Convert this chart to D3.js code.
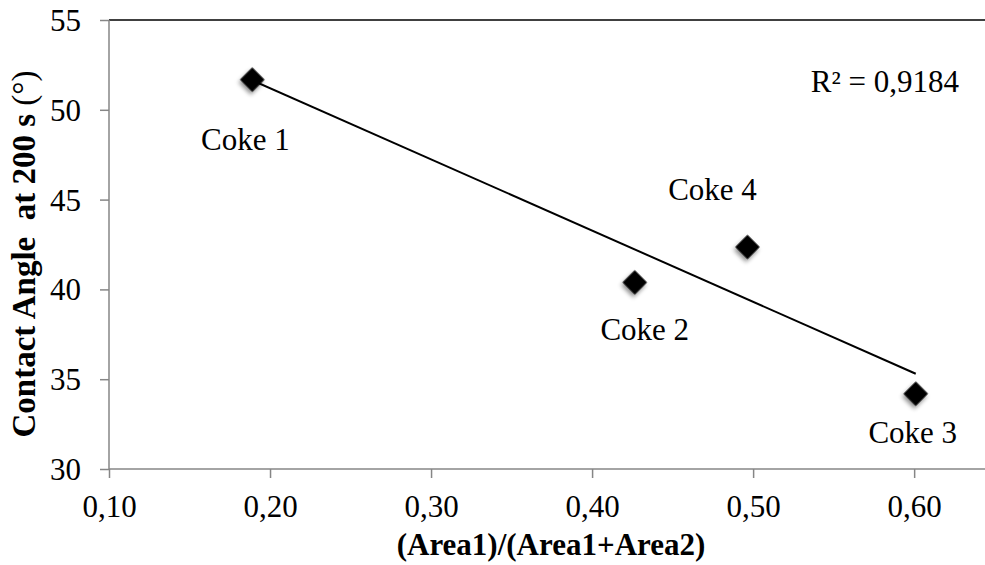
<!DOCTYPE html>
<html>
<head>
<meta charset="utf-8">
<script src="https://cdn.jsdelivr.net/npm/d3@7"></script>
<style>
  body { margin: 0; background: #fff; }
  text { font-family: "Liberation Serif", "Times New Roman", serif; fill: #000; }
</style>
</head>
<body>
<div id="chart"></div>
<script>
const names = ["Coke 1", "Coke 2", "Coke 3", "Coke 4"];
const ratio = [0.189, 0.4265, 0.601, 0.4965];
const angle = [51.68, 40.39, 34.19, 42.36];
const xTicks = [0.10, 0.20, 0.30, 0.40, 0.50, 0.60];
const yTicks = [30, 35, 40, 45, 50, 55];
const r2Label = "R² = 0,9184";

const width = 985, height = 565;
const margin = { top: 20, right: 0, bottom: 96, left: 109 };

const svg = d3.select("#chart").append("svg")
    .attr("width", width)
    .attr("height", height);

const defs = svg.append("defs");
const shadow = defs.append("filter")
    .attr("id", "shadow")
    .attr("x", "-50%").attr("y", "-50%")
    .attr("width", "200%").attr("height", "200%");
shadow.append("feDropShadow")
    .attr("dx", 1).attr("dy", 3)
    .attr("stdDeviation", 2)
    .attr("flood-color", "#000")
    .attr("flood-opacity", 0.45);

const x = d3.scaleLinear().domain([0.10, 0.644]).range([margin.left, width - margin.right]);
const y = d3.scaleLinear().domain([30, 55]).range([height - margin.bottom, margin.top]);

const fmt = d => d3.format(".2f")(d).replace(".", ",");

// top border
svg.append("line")
    .attr("x1", x(0.10)).attr("x2", width)
    .attr("y1", y(55)).attr("y2", y(55))
    .attr("stroke", "#000").attr("stroke-width", 1.5);

// x axis
const xAxis = svg.append("g")
    .attr("transform", `translate(0,${y(30)})`)
    .call(d3.axisBottom(x).tickValues(xTicks).tickFormat(fmt).tickSize(9));
xAxis.select(".domain").attr("stroke", "#868686").attr("stroke-width", 1.5)
    .attr("d", `M${x(0.10)},0H${width}`);
xAxis.selectAll(".tick line").attr("stroke", "#868686").attr("stroke-width", 1.5);
xAxis.selectAll(".tick text")
    .attr("font-size", 31)
    .attr("y", 48)
    .attr("dy", 0);

// y axis
const yAxis = svg.append("g")
    .attr("transform", `translate(${x(0.10)},0)`)
    .call(d3.axisLeft(y).tickValues(yTicks).tickSize(9));
yAxis.select(".domain").attr("stroke", "#868686").attr("stroke-width", 1.5)
    .attr("d", `M0,${y(30)}V${y(55)}`);
yAxis.selectAll(".tick line").attr("stroke", "#868686").attr("stroke-width", 1.5);
yAxis.selectAll(".tick text")
    .attr("font-size", 31)
    .attr("x", -28)
    .attr("dy", "0.34em");

// trend line (least squares)
const mx = d3.mean(ratio), my = d3.mean(angle);
const slope = d3.sum(ratio, (d, i) => (d - mx) * (angle[i] - my)) / d3.sum(ratio, d => (d - mx) ** 2);
const icpt = my - slope * mx;
const [xmin, xmax] = d3.extent(ratio);
svg.append("line")
    .attr("x1", x(xmin)).attr("y1", y(icpt + slope * xmin))
    .attr("x2", x(xmax)).attr("y2", y(icpt + slope * xmax))
    .attr("stroke", "#000").attr("stroke-width", 2);

// markers
svg.selectAll(".pt")
    .data(ratio)
    .enter()
    .append("path")
    .classed("pt", true)
    .attr("d", d3.symbol(d3.symbolSquare, 300))
    .attr("transform", (d, i) => `translate(${x(d)},${y(angle[i])}) rotate(45)`)
    .attr("fill", "#000")
    .attr("filter", "url(#shadow)");

// point labels
const labelOffset = [[-7, 70], [10, 58], [-3, 49], [-35, -47]];
svg.selectAll(".lbl")
    .data(names)
    .enter()
    .append("text")
    .classed("lbl", true)
    .attr("x", (d, i) => x(ratio[i]) + labelOffset[i][0])
    .attr("y", (d, i) => y(angle[i]) + labelOffset[i][1])
    .attr("text-anchor", "middle")
    .attr("font-size", 31)
    .text(d => d);

svg.append("text")
    .attr("x", 959).attr("y", 92)
    .attr("text-anchor", "end")
    .attr("font-size", 31)
    .text(r2Label);

// axis titles
svg.append("text")
    .attr("x", 551).attr("y", 555)
    .attr("text-anchor", "middle")
    .attr("font-size", 31)
    .attr("font-weight", "bold")
    .text("(Area1)/(Area1+Area2)");

const yt = svg.append("text")
    .attr("transform", "translate(35,254) rotate(-90)")
    .attr("text-anchor", "middle")
    .attr("font-size", 33)
    .attr("font-weight", "bold")
    .style("white-space", "pre");
yt.append("tspan").text("Contact Angle  at 200 s ");
yt.append("tspan").attr("font-weight", "normal").text("(°)");
</script>
</body>
</html>
